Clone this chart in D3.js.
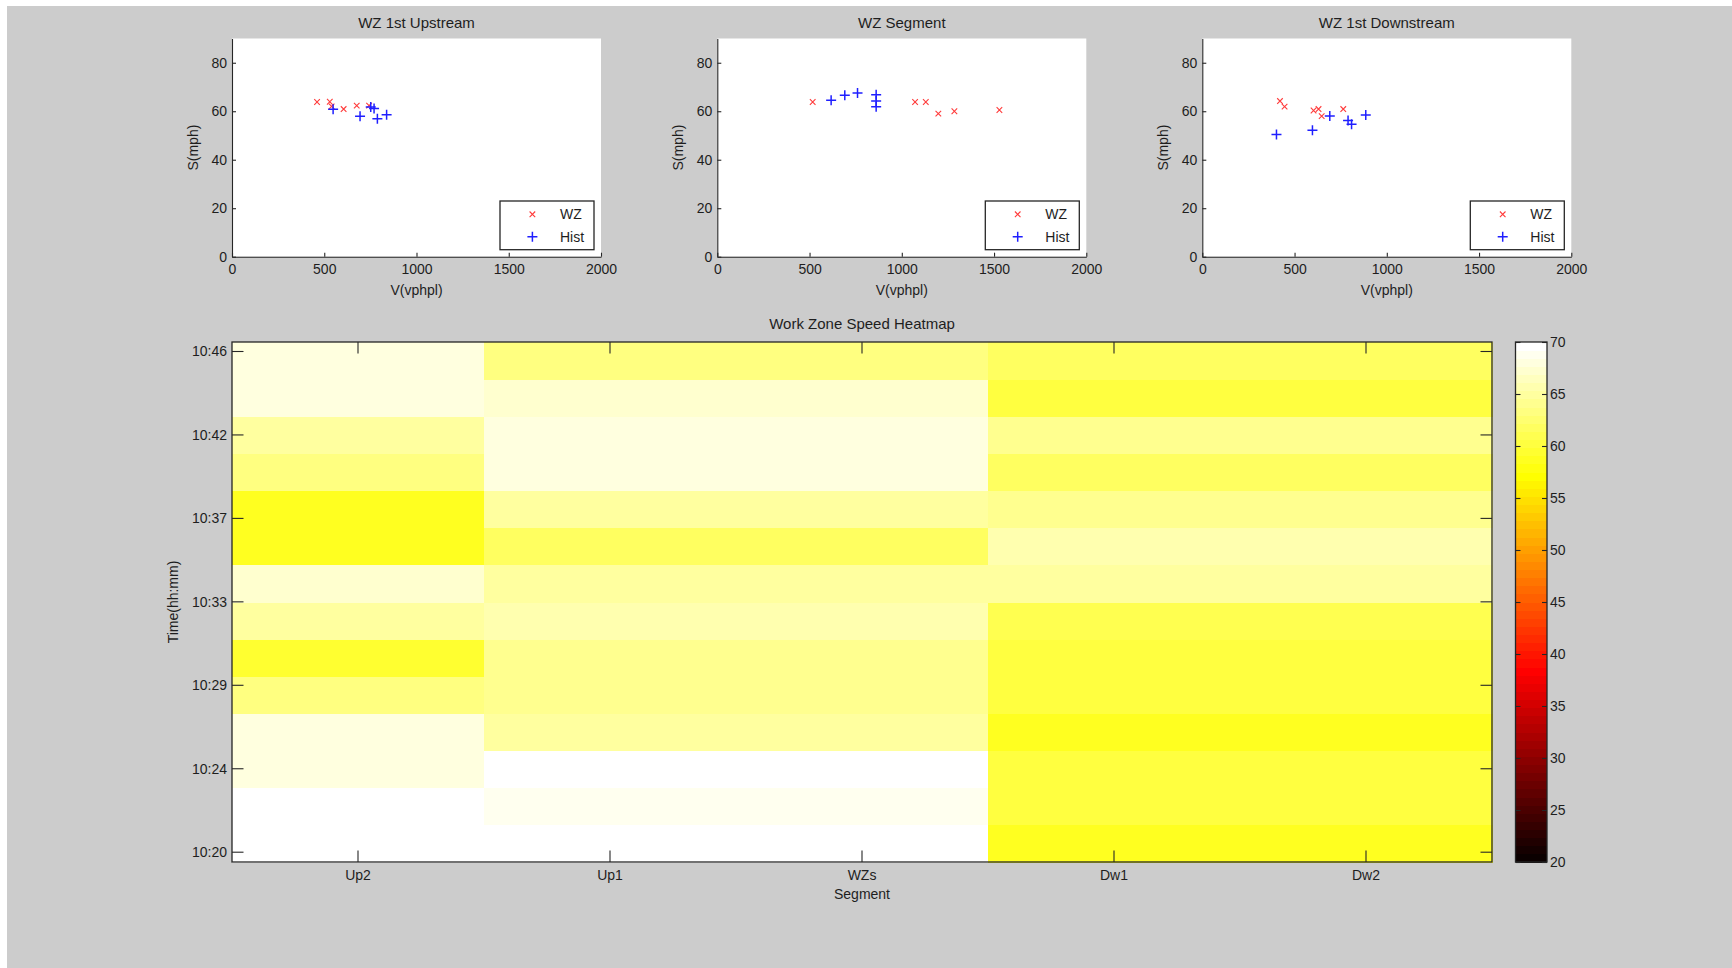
<!DOCTYPE html>
<html>
<head>
<meta charset="utf-8">
<script src="https://cdn.jsdelivr.net/npm/d3@7"></script>
<style>
  html, body { margin: 0; padding: 0; background: #ffffff; }
  svg { display: block; }
  text { font-family: "Liberation Sans", Arial, Helvetica, sans-serif; fill: #1e1e1e; }
</style>
</head>
<body>
<svg id="fig" width="1732" height="968"></svg>
<script>
// ---- Speed-volume scatter data (V in vphpl, S in mph) ----
const upWzVolume   = [461, 530, 540, 605, 676, 743];
const upWzSpeed    = [63.8, 63.9, 62.0, 60.9, 62.3, 62.3];
const upHistVolume = [548, 694, 752, 770, 788, 838];
const upHistSpeed  = [60.8, 57.9, 61.7, 61.1, 56.9, 58.5];

const segWzVolume   = [517, 1072, 1130, 1198, 1285, 1529];
const segWzSpeed    = [63.8, 63.8, 63.8, 59.0, 60.0, 60.5];
const segHistVolume = [617, 691, 760, 861, 861, 861];
const segHistSpeed  = [64.5, 66.6, 67.5, 66.8, 64.2, 61.9];

const dnWzVolume   = [421, 446, 603, 630, 647, 764];
const dnWzSpeed    = [64.2, 61.9, 60.3, 60.9, 58.0, 60.9];
const dnHistVolume = [402, 597, 691, 790, 809, 886];
const dnHistSpeed  = [50.4, 52.2, 58.0, 56.2, 54.6, 58.4];

const panelTitles = ["WZ 1st Upstream", "WZ Segment", "WZ 1st Downstream"];
const volumeTicks = [0, 500, 1000, 1500, 2000];
const speedTicks  = [0, 20, 40, 60, 80];
const legendLabels = ["WZ", "Hist"];

// ---- Heatmap data: speed (mph) per segment, earliest interval first ----
const segments = ["Up2", "Up1", "WZs", "Dw1", "Dw2"];
const speedUp2 = [70, 70, 68.0, 68.0, 63.4, 59.5, 64.9, 66.9, 58.7, 58.7, 63.0, 64.9, 68.0, 68.0];
const speedUp1 = [70, 68.8, 70, 64.9, 63.8, 64.1, 65.7, 64.6, 61.8, 64.9, 68.0, 68.0, 67.3, 63.4];
const speedWZs = [70, 68.8, 70, 64.9, 63.8, 64.1, 65.7, 64.6, 61.8, 64.9, 68.0, 68.0, 67.3, 63.4];
const speedDw1 = [59.0, 60.6, 60.6, 58.7, 59.9, 59.9, 61.0, 64.6, 65.4, 63.8, 61.8, 64.1, 60.2, 61.8];
const speedDw2 = [59.0, 60.6, 60.6, 58.7, 59.9, 59.9, 61.0, 64.6, 65.4, 63.8, 61.8, 64.1, 60.2, 61.8];

// time axis (minutes past 10:00)
const timeExtent = [19.465, 46.467];
const timeTickValues = [20, 24.333, 28.667, 33, 37.333, 41.667, 46];
const timeTickLabels = ["10:20", "10:24", "10:29", "10:33", "10:37", "10:42", "10:46"];

const colorLimits = [20, 70];
const colorbarTicks = [20, 25, 30, 35, 40, 45, 50, 55, 60, 65, 70];

// ---- figure ----
const svg = d3.select("#fig");
const W = 1732, H = 968;
const axisColor = "#262626";

svg.append("rect").attr("x", 0).attr("y", 0).attr("width", W).attr("height", H).attr("fill", "#ffffff");
svg.append("rect").attr("x", 7).attr("y", 6).attr("width", W - 7).attr("height", H - 6).attr("fill", "#cccccc");

// MATLAB-style "hot" colormap with 64 entries
function hotMap(m) {
  const n = Math.floor(3 / 8 * m);
  const cols = [];
  for (let i = 1; i <= m; i++) {
    const r = Math.min(i / n, 1);
    const g = Math.max(0, Math.min((i - n) / n, 1));
    const b = Math.max(0, Math.min((i - 2 * n) / (m - 2 * n), 1));
    cols.push(d3.rgb(r * 255, g * 255, b * 255).formatHex());
  }
  return cols;
}
const hotColors = hotMap(64);
const color = d3.scaleQuantize().domain(colorLimits).range(hotColors);

// ---- scatter panels ----
const panels = [
  { title: panelTitles[0], left: 232,   wzV: upWzVolume,  wzS: upWzSpeed,  hV: upHistVolume,  hS: upHistSpeed },
  { title: panelTitles[1], left: 717.3, wzV: segWzVolume, wzS: segWzSpeed, hV: segHistVolume, hS: segHistSpeed },
  { title: panelTitles[2], left: 1202.3,wzV: dnWzVolume,  wzS: dnWzSpeed,  hV: dnHistVolume,  hS: dnHistSpeed }
];
const pW = 369, pTop = 38.5, pBottom = 256.7;
const wzColor = "#ff3b3b", histColor = "#1f1fff";

function drawCross(g, cx, cy, r, stroke) {
  g.append("path")
    .attr("d", `M${cx - r},${cy - r}L${cx + r},${cy + r}M${cx - r},${cy + r}L${cx + r},${cy - r}`)
    .attr("stroke", stroke).attr("stroke-width", 1.1).attr("fill", "none");
}
function drawPlus(g, cx, cy, r, stroke) {
  g.append("path")
    .attr("d", `M${cx - r},${cy}L${cx + r},${cy}M${cx},${cy - r}L${cx},${cy + r}`)
    .attr("stroke", stroke).attr("stroke-width", 1.5).attr("fill", "none");
}

panels.forEach(p => {
  const x = d3.scaleLinear().domain([0, 2000]).range([p.left, p.left + pW]);
  const y = d3.scaleLinear().domain([0, 90]).range([pBottom, pTop]);
  const g = svg.append("g");

  g.append("rect").attr("x", p.left).attr("y", pTop)
    .attr("width", pW).attr("height", pBottom - pTop).attr("fill", "#ffffff");

  // markers
  const marks = g.append("g");
  p.wzV.forEach((v, i) => drawCross(marks, x(v), y(p.wzS[i]), 2.8, wzColor));
  p.hV.forEach((v, i) => drawPlus(marks, x(v), y(p.hS[i]), 5, histColor));

  // axes
  const xa = g.append("g").attr("transform", `translate(0,${pBottom})`)
    .call(d3.axisBottom(x).tickValues(volumeTicks).tickFormat(d3.format("d"))
      .tickSizeInner(-4).tickSizeOuter(0));
  xa.selectAll("text").attr("y", 17.3).attr("dy", 0).style("font-size", "14px");
  const ya = g.append("g").attr("transform", `translate(${p.left},0)`)
    .call(d3.axisLeft(y).tickValues(speedTicks).tickFormat(d3.format("d"))
      .tickSizeInner(-4).tickSizeOuter(0).tickPadding(5));
  ya.selectAll("text").attr("dy", "0.34em").style("font-size", "14px");
  [xa, ya].forEach(a => {
    a.attr("font-family", null).attr("font-size", null);
    a.selectAll("path, line").attr("stroke", axisColor).attr("stroke-width", 1.1);
    a.selectAll("text").attr("fill", "#1e1e1e");
  });

  // titles and labels
  const cx = p.left + pW / 2;
  g.append("text").attr("x", cx).attr("y", 28.3).attr("text-anchor", "middle")
    .style("font-size", "15px").text(p.title);
  g.append("text").attr("x", cx).attr("y", 295).attr("text-anchor", "middle")
    .style("font-size", "14px").text("V(vphpl)");
  g.append("text").attr("transform", `translate(${p.left - 34},${(pTop + pBottom) / 2}) rotate(-90)`)
    .attr("text-anchor", "middle").style("font-size", "14px").text("S(mph)");

  // legend
  const lw = 94, lh = 48.7;
  const lx = p.left + pW - 7 - lw, ly = pBottom - 7 - lh;
  const lg = g.append("g");
  lg.append("rect").attr("x", lx).attr("y", ly).attr("width", lw).attr("height", lh)
    .attr("fill", "#ffffff").attr("stroke", axisColor).attr("stroke-width", 1.3);
  drawCross(lg, lx + 32.4, ly + 13.3, 2.8, wzColor);
  drawPlus(lg, lx + 32.4, ly + 35.7, 5, histColor);
  lg.append("text").attr("x", lx + 60).attr("y", ly + 13.3 + 5).style("font-size", "14px").text(legendLabels[0]);
  lg.append("text").attr("x", lx + 60).attr("y", ly + 35.7 + 5).style("font-size", "14px").text(legendLabels[1]);
});

// ---- heatmap ----
const hm = { left: 232, right: 1492, top: 342, bottom: 862 };
const speedBySegment = [speedUp2, speedUp1, speedWZs, speedDw1, speedDw2];
const rowIndex = d3.range(speedUp2.length);

const hx = d3.scaleBand().domain(segments).range([hm.left, hm.right]);
const hy = d3.scaleBand().domain(rowIndex).range([hm.bottom, hm.top]);
const ht = d3.scaleLinear().domain(timeExtent).range([hm.bottom, hm.top]);

const cells = [];
segments.forEach((s, j) => speedBySegment[j].forEach((v, i) => cells.push({ seg: s, row: i, v })));

const hg = svg.append("g");
hg.selectAll("rect.cell").data(cells).join("rect")
  .attr("class", "cell")
  .attr("x", d => hx(d.seg))
  .attr("y", d => hy(d.row))
  .attr("width", hx.bandwidth() + 0.5)
  .attr("height", hy.bandwidth() + 0.5)
  .attr("fill", d => color(d.v))
  .attr("shape-rendering", "crispEdges");

const tickLen = 11.5;
function styleAxis(a) {
  a.attr("font-family", null).attr("font-size", null);
  a.selectAll("path").remove();
  a.selectAll("line").attr("stroke", axisColor).attr("stroke-width", 1.1);
  a.selectAll("text").attr("fill", "#1e1e1e").style("font-size", "14px");
}
const hLeft = hg.append("g").attr("transform", `translate(${hm.left},0)`)
  .call(d3.axisLeft(ht).tickValues(timeTickValues).tickFormat((d, i) => timeTickLabels[i])
    .tickSizeInner(-tickLen).tickSizeOuter(0).tickPadding(5));
styleAxis(hLeft);
hLeft.selectAll("text").attr("dy", "0.34em");
const hRight = hg.append("g").attr("transform", `translate(${hm.right},0)`)
  .call(d3.axisRight(ht).tickValues(timeTickValues).tickFormat("").tickSizeInner(-tickLen).tickSizeOuter(0));
styleAxis(hRight);
const hBottom = hg.append("g").attr("transform", `translate(0,${hm.bottom})`)
  .call(d3.axisBottom(hx).tickSizeInner(-tickLen).tickSizeOuter(0));
styleAxis(hBottom);
hBottom.selectAll("text").attr("y", 18).attr("dy", 0);
const hTop = hg.append("g").attr("transform", `translate(0,${hm.top})`)
  .call(d3.axisTop(hx).tickFormat("").tickSizeInner(-tickLen).tickSizeOuter(0));
styleAxis(hTop);

hg.append("rect").attr("x", hm.left).attr("y", hm.top)
  .attr("width", hm.right - hm.left).attr("height", hm.bottom - hm.top)
  .attr("fill", "none").attr("stroke", axisColor).attr("stroke-width", 1.3);

hg.append("text").attr("x", (hm.left + hm.right) / 2).attr("y", 329).attr("text-anchor", "middle")
  .style("font-size", "15px").text("Work Zone Speed Heatmap");
hg.append("text").attr("x", (hm.left + hm.right) / 2).attr("y", 899).attr("text-anchor", "middle")
  .style("font-size", "14px").text("Segment");
hg.append("text").attr("transform", `translate(178,${(hm.top + hm.bottom) / 2}) rotate(-90)`)
  .attr("text-anchor", "middle").style("font-size", "14px").text("Time(hh:mm)");

// ---- colorbar ----
const cb = { left: 1515.5, right: 1547, top: 342, bottom: 862 };
const cy = d3.scaleLinear().domain(colorLimits).range([cb.bottom, cb.top]);
const step = (colorLimits[1] - colorLimits[0]) / hotColors.length;
const cg = svg.append("g");
cg.selectAll("rect.band").data(hotColors).join("rect")
  .attr("class", "band")
  .attr("x", cb.left)
  .attr("y", (c, i) => cy(colorLimits[0] + (i + 1) * step))
  .attr("width", cb.right - cb.left)
  .attr("height", (c, i) => cy(colorLimits[0] + i * step) - cy(colorLimits[0] + (i + 1) * step) + 0.5)
  .attr("fill", c => c)
  .attr("shape-rendering", "crispEdges");

const cbRight = cg.append("g").attr("transform", `translate(${cb.right},0)`)
  .call(d3.axisRight(cy).tickValues(colorbarTicks).tickSizeInner(-5).tickSizeOuter(0).tickPadding(3));
styleAxis(cbRight);
cbRight.selectAll("text").attr("dy", "0.34em");
const cbLeft = cg.append("g").attr("transform", `translate(${cb.left},0)`)
  .call(d3.axisLeft(cy).tickValues(colorbarTicks).tickFormat("").tickSizeInner(-5).tickSizeOuter(0));
styleAxis(cbLeft);
cg.append("rect").attr("x", cb.left).attr("y", cb.top)
  .attr("width", cb.right - cb.left).attr("height", cb.bottom - cb.top)
  .attr("fill", "none").attr("stroke", axisColor).attr("stroke-width", 1.3);
</script>
</body>
</html>
